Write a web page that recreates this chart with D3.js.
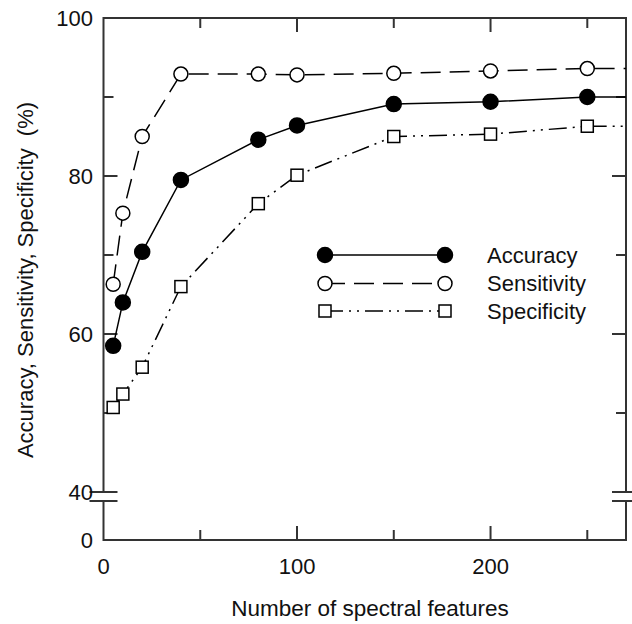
<!DOCTYPE html>
<html>
<head>
<meta charset="utf-8">
<script src="https://cdn.jsdelivr.net/npm/d3@7"></script>
<style>
  html, body { margin: 0; padding: 0; background: #fff; }
  svg { display: block; }
  text { font-family: "Liberation Sans", Arial, Helvetica, sans-serif; fill: #111; }
</style>
</head>
<body>
<div id="chart"></div>
<script>
// Classification performance versus number of spectral features
const features    = [5, 10, 20, 40, 80, 100, 150, 200, 250, 300];
const accuracy    = [58.5, 64.0, 70.4, 79.5, 84.6, 86.4, 89.1, 89.4, 90.0, 90.0];
const sensitivity = [66.3, 75.3, 85.0, 92.9, 92.9, 92.8, 93.0, 93.3, 93.6, 93.6];
const specificity = [50.7, 52.4, 55.8, 66.0, 76.5, 80.1, 85.0, 85.3, 86.3, 86.3];

const xMajorTicks = [0, 100, 200];
const xMinorTicks = [50, 150, 250];
const yMajorTicks = [60, 80, 100];
const yMinorTicks = [50, 70, 90];
const seriesNames = ["Accuracy", "Sensitivity", "Specificity"];

const W = 632, H = 624;
const pLeft = 103.5, pRight = 626, pTop = 18, breakTop = 492, breakBottom = 501, pBottom = 540;

const x = d3.scaleLinear().domain([0, 270]).range([pLeft, pRight]);
const y = d3.scaleLinear().domain([40, 100]).range([breakTop, pTop]);

const svg = d3.select("#chart").append("svg").attr("width", W).attr("height", H);

svg.append("defs").append("clipPath").attr("id", "plot-clip")
  .append("rect").attr("x", pLeft).attr("y", pTop)
  .attr("width", pRight - pLeft).attr("height", breakTop - pTop);

const axisColor = "#333";
const axisG = svg.append("g").attr("stroke", axisColor).attr("stroke-width", 2).attr("fill", "none");

// frame: top and bottom edges, broken left and right edges
axisG.append("line").attr("x1", pLeft).attr("x2", pRight).attr("y1", pTop).attr("y2", pTop);
axisG.append("line").attr("x1", pLeft).attr("x2", pRight).attr("y1", pBottom).attr("y2", pBottom);
[pLeft, pRight].forEach(xx => {
  axisG.append("line").attr("x1", xx).attr("x2", xx).attr("y1", pTop - 1).attr("y2", breakTop);
  axisG.append("line").attr("x1", xx).attr("x2", xx).attr("y1", breakBottom).attr("y2", pBottom + 1);
  [breakTop, breakBottom].forEach(yy => {
    axisG.append("line").attr("x1", xx - 14).attr("x2", xx + 14).attr("y1", yy).attr("y2", yy);
  });
});

// inward ticks on all four sides
const majorLen = 14, minorLen = 10;
xMajorTicks.concat(xMinorTicks).forEach(v => {
  const len = xMajorTicks.includes(v) ? majorLen : minorLen;
  if (v === 0) return;
  axisG.append("line").attr("x1", x(v)).attr("x2", x(v)).attr("y1", pBottom).attr("y2", pBottom - len);
  axisG.append("line").attr("x1", x(v)).attr("x2", x(v)).attr("y1", pTop).attr("y2", pTop + len);
});
yMajorTicks.concat(yMinorTicks).forEach(v => {
  const len = yMajorTicks.includes(v) ? majorLen : minorLen;
  if (v === 100) return;
  axisG.append("line").attr("x1", pLeft).attr("x2", pLeft + len).attr("y1", y(v)).attr("y2", y(v));
  axisG.append("line").attr("x1", pRight).attr("x2", pRight - len).attr("y1", y(v)).attr("y2", y(v));
});

// tick labels
const fs = 22;
const labG = svg.append("g").style("font-size", fs + "px");
xMajorTicks.forEach(v => {
  labG.append("text").attr("x", x(v)).attr("y", 566).attr("dy", "0.35em")
    .attr("text-anchor", "middle").text(v);
});
[40].concat(yMajorTicks).forEach(v => {
  labG.append("text").attr("x", 93).attr("y", y(v)).attr("dy", "0.35em")
    .attr("text-anchor", "end").text(v);
});
labG.append("text").attr("x", 93).attr("y", pBottom).attr("dy", "0.35em")
  .attr("text-anchor", "end").text(0);

// axis titles
labG.append("text").attr("x", 370).attr("y", 608).attr("dy", "0.35em")
  .attr("text-anchor", "middle").style("font-size", "22.5px").text("Number of spectral features");
labG.append("text").attr("transform", "translate(25,280) rotate(-90)").attr("dy", "0.35em")
  .attr("text-anchor", "middle").style("white-space", "pre")
  .text("Accuracy, Sensitivity, Specificity  (%)");

// series
const series = [
  { name: seriesNames[0], values: accuracy,    dash: null,            marker: "circle", fill: "#000" },
  { name: seriesNames[1], values: sensitivity, dash: "20,9",          marker: "circle", fill: "#fff" },
  { name: seriesNames[2], values: specificity, dash: "18,6,2,6,2,6",  marker: "square", fill: "#fff" }
];

const line = d3.line().x(d => x(d[0])).y(d => y(d[1]));
const plotG = svg.append("g").attr("clip-path", "url(#plot-clip)");

function drawMarker(g, s, cx, cy) {
  if (s.marker === "circle") {
    g.append("circle").attr("cx", cx).attr("cy", cy)
      .attr("r", s.fill === "#000" ? 7.5 : 7)
      .attr("fill", s.fill).attr("stroke", "#000").attr("stroke-width", 1.5);
  } else {
    g.append("rect").attr("x", cx - 6).attr("y", cy - 6).attr("width", 12).attr("height", 12)
      .attr("fill", s.fill).attr("stroke", "#000").attr("stroke-width", 1.5);
  }
}

series.forEach(s => {
  const pts = features.map((f, i) => [f, s.values[i]]);
  plotG.append("path").datum(pts).attr("d", line)
    .attr("fill", "none").attr("stroke", "#000").attr("stroke-width", 1.5)
    .attr("stroke-dasharray", s.dash);
});
series.forEach(s => {
  features.forEach((f, i) => drawMarker(plotG, s, x(f), y(s.values[i])));
});

// legend
const legG = svg.append("g");
const legRows = [255, 283.5, 311];
series.forEach((s, i) => {
  const ly = legRows[i];
  legG.append("line").attr("x1", 325).attr("x2", 445).attr("y1", ly).attr("y2", ly)
    .attr("stroke", "#000").attr("stroke-width", 1.5).attr("stroke-dasharray", s.dash);
  drawMarker(legG, s, 325, ly);
  drawMarker(legG, s, 445, ly);
  legG.append("text").attr("x", 487).attr("y", ly).attr("dy", "0.35em")
    .style("font-size", fs + "px").text(s.name);
});
</script>
</body>
</html>
